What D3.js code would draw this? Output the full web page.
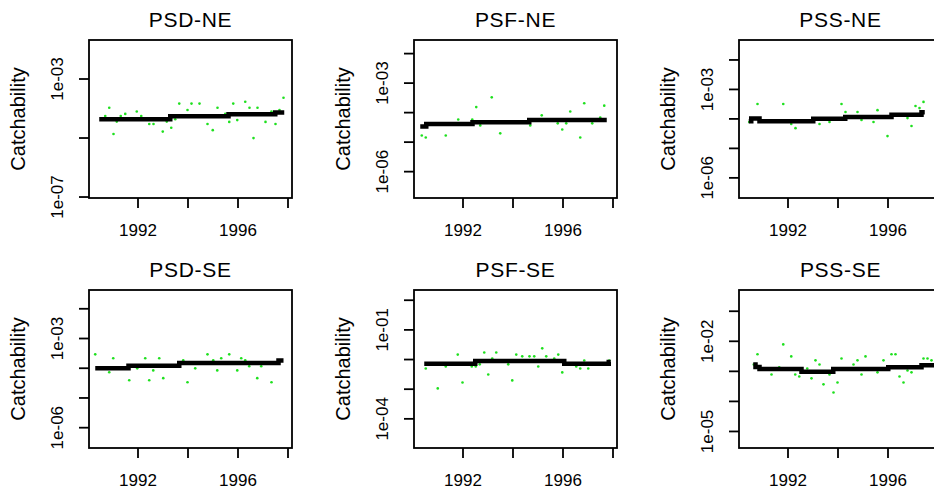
<!DOCTYPE html>
<html>
<head>
<meta charset="utf-8">
<script src="https://cdn.jsdelivr.net/npm/d3@7/dist/d3.min.js"></script>
<style>
body { margin: 0; background: #fff; }
svg { display: block; }
text { font-family: "Liberation Sans", Arial, sans-serif; fill: #000; }
</style>
</head>
<body>
<div class="plots"></div>
<script>
var titles = ["PSD-NE", "PSF-NE", "PSS-NE", "PSD-SE", "PSF-SE", "PSS-SE"];

var yearRange = [1990.06, 1998.18];
var yearTicks = [1992, 1994, 1996, 1998];
var yearLabels = ["1992", "", "1996", ""];

// y limits of each panel, as log10(catchability): bottom, top
var logLimits = [[-7.05, -1.695], [-6.91, -1.556], [-6.70, -1.34],
                 [-6.70, -1.385], [-5.0, 0.328], [-5.567, -0.31]];

var yTicks = [[1e-7, 1e-5, 1e-3],
              [1e-6, 1e-5, 1e-4, 1e-3, 1e-2],
              [1e-6, 1e-5, 1e-4, 1e-3, 1e-2],
              [1e-6, 1e-5, 1e-4, 1e-3, 1e-2],
              [1e-4, 1e-3, 1e-2, 1e-1, 1],
              [1e-5, 1e-4, 1e-3, 1e-2, 1e-1]];
var yTickLabels = [["1e-07", "", "1e-03"],
                   ["1e-06", "", "", "1e-03", ""],
                   ["1e-06", "", "", "1e-03", ""],
                   ["1e-06", "", "", "1e-03", ""],
                   ["1e-04", "", "", "1e-01", ""],
                   ["1e-05", "", "", "1e-02", ""]];

// observed points: [year, log10(q)]
var psdNeObs = [[1990.71,-4.27],[1990.87,-3.99],[1991.04,-4.88],[1991.17,-4.46],[1991.33,-4.27],
  [1991.51,-4.20],[1991.97,-4.12],[1992.15,-4.27],[1992.47,-4.54],[1992.64,-4.54],[1993.01,-4.80],
  [1993.17,-4.46],[1993.35,-4.67],[1993.51,-4.38],[1993.67,-3.85],[1994.00,-4.07],[1994.16,-3.85],
  [1994.48,-3.85],[1994.80,-4.54],[1995.01,-4.75],[1995.20,-3.99],[1995.51,-4.20],[1995.67,-4.47],
  [1995.83,-3.85],[1995.99,-4.41],[1996.31,-3.79],[1996.48,-3.99],[1996.64,-5.02],[1996.80,-3.99],
  [1997.12,-4.47],[1997.36,-4.12],[1997.52,-4.54],[1997.68,-4.07],[1997.84,-3.65]];
var psfNeObs = [[1990.37,-4.79],[1990.53,-4.86],[1991.33,-4.79],[1991.83,-4.25],[1992.39,-4.25],
  [1992.55,-3.83],[1992.71,-4.45],[1993.17,-3.50],[1993.51,-4.72],[1994.71,-4.45],[1995.17,-4.11],
  [1995.81,-4.38],[1995.99,-4.59],[1996.15,-4.38],[1996.31,-3.98],[1996.71,-4.86],[1996.87,-3.70],
  [1997.19,-4.38],[1997.51,-4.18],[1997.67,-3.78]];
var pssNeObs = [[1990.47,-4.12],[1990.80,-3.51],[1991.83,-3.51],[1992.15,-4.19],[1992.32,-4.33],
  [1993.28,-4.19],[1993.68,-4.12],[1994.16,-3.51],[1994.32,-3.78],[1994.80,-3.78],[1994.96,-4.05],
  [1995.44,-4.12],[1995.60,-3.72],[1996.00,-4.60],[1996.80,-3.99],[1996.96,-4.26],[1997.12,-3.58],
  [1997.28,-3.65],[1997.44,-3.44]];
var psdSeObs = [[1990.31,-3.55],[1990.87,-4.15],[1991.03,-3.68],[1991.67,-4.42],[1991.99,-4.02],
  [1992.31,-3.68],[1992.47,-4.42],[1992.63,-4.09],[1992.87,-3.68],[1993.03,-4.35],[1993.83,-3.75],
  [1994.00,-4.49],[1994.31,-4.02],[1994.80,-3.55],[1995.03,-3.75],[1995.19,-4.09],[1995.35,-3.68],
  [1995.67,-3.55],[1995.99,-4.09],[1996.15,-3.68],[1996.31,-3.75],[1996.47,-3.95],[1996.79,-4.35],
  [1996.95,-3.95],[1997.36,-4.49]];
var psfSeObs = [[1990.53,-2.32],[1991.01,-2.99],[1991.33,-2.25],[1991.81,-1.85],[1992.00,-2.79],
  [1992.37,-2.25],[1992.53,-2.25],[1992.69,-2.18],[1992.87,-1.78],[1993.03,-2.52],[1993.19,-1.98],
  [1993.35,-1.78],[1993.83,-2.18],[1993.99,-2.72],[1994.15,-1.85],[1994.39,-1.91],[1994.68,-1.91],
  [1994.87,-1.91],[1995.03,-2.25],[1995.19,-1.64],[1995.35,-1.91],[1995.67,-1.98],[1995.83,-1.85],
  [1995.99,-2.45],[1996.55,-2.25],[1996.71,-2.32],[1996.87,-2.05],[1997.03,-2.32],[1997.87,-2.05]];
var pssSeObs = [[1990.65,-2.79],[1990.80,-2.45],[1991.36,-3.12],[1991.67,-2.88],[1991.83,-2.12],
  [1992.15,-2.52],[1992.31,-3.12],[1992.47,-3.19],[1992.79,-2.92],[1992.96,-3.25],[1993.12,-2.65],
  [1993.28,-2.79],[1993.44,-3.45],[1993.68,-3.12],[1993.84,-3.72],[1994.00,-3.39],[1994.16,-2.59],
  [1994.64,-2.79],[1994.80,-2.65],[1994.96,-3.12],[1995.12,-2.52],[1995.60,-3.05],[1995.84,-2.65],
  [1996.16,-2.45],[1996.32,-2.45],[1996.48,-3.19],[1996.64,-3.39],[1996.80,-2.99],[1996.96,-3.05],
  [1997.44,-2.59],[1997.60,-2.59],[1997.76,-2.65]];

// fitted catchability, step changes: [year, log10(q)]
var psdNeFit = [[1990.47,-4.38],[1993.31,-4.28],[1995.64,-4.21],[1997.51,-4.15],[1997.87,-4.15]];
var psfNeFit = [[1990.31,-4.49],[1990.55,-4.40],[1992.40,-4.34],[1994.67,-4.27],[1997.77,-4.27]];
var pssNeFit = [[1990.45,-4.10],[1990.55,-4.00],[1990.88,-4.10],[1993.03,-4.01],[1994.31,-3.95],
  [1996.16,-3.88],[1997.36,-3.79],[1997.49,-3.79]];
var psdSeFit = [[1990.31,-4.02],[1991.64,-3.93],[1993.67,-3.84],[1997.64,-3.76],[1997.84,-3.76]];
var psfSeFit = [[1990.47,-2.16],[1992.51,-2.07],[1996.07,-2.16],[1997.85,-2.10],[1997.93,-2.10]];
var pssSeFit = [[1990.63,-2.79],[1990.72,-2.87],[1990.88,-2.94],[1992.56,-3.03],[1993.83,-2.94],
  [1996.03,-2.88],[1997.36,-2.81],[1997.90,-2.81]];

var obs = [psdNeObs, psfNeObs, pssNeObs, psdSeObs, psfSeObs, pssSeObs];
var fit = [psdNeFit, psfNeFit, pssNeFit, psdSeFit, psfSeFit, pssSeFit];

var boxW = 203, boxH = 158;

var svg = d3.select(".plots")
  .append("svg")
  .attr("width", 934)
  .attr("height", 489);

titles.forEach(function(title, i) {
  var col = i % 3, row = Math.floor(i / 3);
  var g = svg.append("g")
    .attr("transform", "translate(" + (89 + 325 * col) + "," + (40 + 250 * row) + ")");

  var x = d3.scaleLinear().domain(yearRange).range([0, boxW]);
  var y = d3.scaleLog()
    .domain([Math.pow(10, logLimits[i][0]), Math.pow(10, logLimits[i][1])])
    .range([boxH, 0]);

  // observations
  g.selectAll("circle")
    .data(obs[i])
    .enter()
    .append("circle")
    .attr("cx", function(d) { return x(d[0]); })
    .attr("cy", function(d) { return y(Math.pow(10, d[1])); })
    .attr("r", 1.3)
    .attr("fill", "#1ee01e");

  // fitted step line
  var line = d3.line()
    .x(function(d) { return x(d[0]); })
    .y(function(d) { return y(Math.pow(10, d[1])); })
    .curve(d3.curveStepAfter);

  g.append("path")
    .attr("d", line(fit[i]))
    .attr("fill", "none")
    .attr("stroke", "#000")
    .attr("stroke-width", 4.5);

  // axes
  var yAxis = d3.axisLeft(y)
    .tickValues(yTicks[i])
    .tickSize(10)
    .tickFormat(function(d, j) { return yTickLabels[i][j]; });
  var ya = g.append("g").call(yAxis);
  ya.select(".domain").remove();
  ya.selectAll("line").attr("stroke", "#000").attr("stroke-width", 1.8);
  ya.selectAll("text")
    .attr("transform", "rotate(-90)")
    .attr("x", 0)
    .attr("y", -26)
    .attr("dy", 0)
    .attr("text-anchor", "middle")
    .style("font-size", "17px")
    .style("font-family", "'Liberation Sans', Arial, sans-serif");

  var xAxis = d3.axisBottom(x)
    .tickValues(yearTicks)
    .tickSize(10)
    .tickFormat(function(d, j) { return yearLabels[j]; });
  var xa = g.append("g").attr("transform", "translate(0," + boxH + ")").call(xAxis);
  xa.select(".domain").remove();
  xa.selectAll("line").attr("stroke", "#000").attr("stroke-width", 1.8);
  xa.selectAll("text")
    .attr("y", 37.5)
    .attr("dy", 0)
    .style("font-size", "17px")
    .style("font-family", "'Liberation Sans', Arial, sans-serif");

  // box
  g.append("rect")
    .attr("width", boxW)
    .attr("height", boxH)
    .attr("fill", "none")
    .attr("stroke", "#000")
    .attr("stroke-width", 1.8);

  g.append("text")
    .attr("x", boxW / 2)
    .attr("y", -13)
    .attr("text-anchor", "middle")
    .style("font-size", "21px")
    .style("letter-spacing", "0.7px")
    .text(title);

  g.append("text")
    .attr("transform", "rotate(-90)")
    .attr("x", -boxH / 2)
    .attr("y", -64)
    .attr("text-anchor", "middle")
    .style("font-size", "20px")
    .text("Catchability");
});
</script>
</body>
</html>
